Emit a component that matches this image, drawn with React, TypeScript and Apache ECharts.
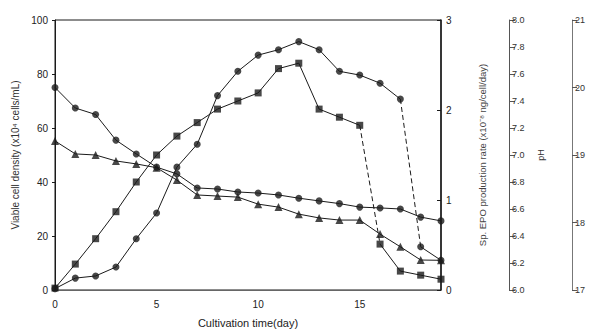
import React, { useEffect, useRef } from "react";
import * as echarts from "echarts";

const days = [0, 1, 2, 3, 4, 5, 6, 7, 8, 9, 10, 11, 12, 13, 14, 15, 16, 17, 18, 19];
const cellA = [0.7, 9.6, 19, 29, 40, 50, 57, 62, 67, 70, 73, 82, 84, 67, 64, 61, 17, 7, 5.5, 4];
const cellB = [0.5, 4.4, 5.2, 8.5, 19, 28.5, 45.5, 54, 72, 81, 87, 89, 92, 89, 81, 79.6, 76.6, 70.7, 16, 11];
const descCircles = [75, 67.4, 65, 55.5, 50.4, 45.5, 43, 37.8, 37.4, 36.3, 35.9, 35.2, 34, 33, 32, 30.7, 30.4, 30, 27, 25.6];
const triangles = [55.2, 50.4, 50, 47.8, 46.7, 45.3, 40.7, 35.2, 34.8, 34.4, 31.8, 30.7, 28.1, 26.7, 25.9, 25.9, 20.7, 16, 11.1, 11];

const FONT = "'Liberation Sans', Arial, sans-serif";
const INK = "#1a1a1a";

function seg(vals: number[], from: number, to: number) {
  return vals.map((v, i) => [days[i], v]).filter((_, i) => i >= from && i <= to);
}

export default function App() {
  const ref = useRef<HTMLDivElement>(null);
  useEffect(() => {
    document.body.style.margin = "0";
    if (!ref.current) return;
    const chart = echarts.init(ref.current, null, { renderer: "svg" });
    const lineSeries = (data: number[][], dashed = false) => ({
      type: "line",
      data,
      yAxisIndex: 0,
      symbol: "none",
      lineStyle: { color: INK, width: 1, type: dashed ? [5, 3] : "solid" },
      z: 2,
    });
    const markers = (vals: number[], symbol: string, size: number) => ({
      type: "scatter",
      data: vals.map((v, i) => [days[i], v]),
      yAxisIndex: 0,
      symbol,
      symbolSize: size,
      itemStyle: { color: INK },
      z: 3,
    });
    const axisText = { color: "#222222", fontSize: 10, fontFamily: FONT };
    chart.setOption({
      animation: false,
      grid: { left: 55, right: 159, top: 20, bottom: 44, show: true, borderColor: INK, borderWidth: 1 },
      xAxis: {
        type: "value",
        min: 0,
        max: 19,
        interval: 5,
        axisLine: { lineStyle: { color: "#666666" } },
        axisTick: { show: false },
        splitLine: { show: false },
        axisLabel: { ...axisText, margin: 9, showMaxLabel: false },
        name: "Cultivation time(day)",
        nameLocation: "middle",
        nameGap: 27,
        nameTextStyle: { color: "#222222", fontSize: 11, fontFamily: FONT },
      },
      yAxis: [
        {
          type: "value",
          min: 0,
          max: 100,
          interval: 20,
          position: "left",
          axisLine: { show: true, lineStyle: { color: INK } },
          axisTick: { show: true, length: 3, lineStyle: { color: INK } },
          splitLine: { show: false },
          axisLabel: { ...axisText, margin: 7 },
          name: "Viable cell density (x10\u2074 cells/mL)",
          nameLocation: "middle",
          nameGap: 28,
          nameRotate: 90,
          nameTextStyle: { color: "#333333", fontSize: 10, fontFamily: FONT },
        },
        {
          type: "value",
          min: 0,
          max: 3,
          interval: 1,
          position: "right",
          offset: 0,
          axisLine: { show: true, lineStyle: { color: INK, width: 1.5 } },
          axisTick: { show: true, inside: true, length: 4, lineStyle: { color: INK } },
          splitLine: { show: false },
          axisLabel: { ...axisText, margin: 5 },
          name: "Sp. EPO production rate (x10\u207B\u2078 ng/cell/day)",
          nameLocation: "middle",
          nameGap: 36,
          nameRotate: 90,
          nameTextStyle: { color: "#444444", fontSize: 9.5, fontFamily: FONT },
        },
        {
          type: "value",
          min: 6,
          max: 8,
          interval: 0.2,
          position: "right",
          offset: 68,
          axisLine: { show: true, lineStyle: { color: "#555555" } },
          axisTick: { show: true, length: 6, lineStyle: { color: "#555555" } },
          splitLine: { show: false },
          axisLabel: { ...axisText, fontSize: 9, color: "#333333", margin: 3, formatter: (v: number) => v.toFixed(1) },
          name: "pH",
          nameLocation: "middle",
          nameGap: 27,
          nameRotate: 90,
          nameTextStyle: { color: "#333333", fontSize: 9, fontFamily: FONT },
        },
        {
          type: "value",
          min: 17,
          max: 21,
          interval: 1,
          position: "right",
          offset: 131,
          axisLine: { show: true, lineStyle: { color: "#777777" } },
          axisTick: { show: true, length: 5, lineStyle: { color: "#555555" } },
          splitLine: { show: false },
          axisLabel: { ...axisText, fontSize: 9, color: "#333333", margin: 3 },
        },
      ],
      series: [
        lineSeries(seg(cellA, 0, 15)),
        lineSeries(seg(cellA, 15, 16), true),
        lineSeries(seg(cellA, 16, 19)),
        lineSeries(seg(cellB, 0, 17)),
        lineSeries(seg(cellB, 17, 18), true),
        lineSeries(seg(cellB, 18, 19)),
        lineSeries(seg(descCircles, 0, 19)),
        lineSeries(seg(triangles, 0, 19)),
        markers(cellA, "rect", 7),
        markers(cellB, "circle", 7),
        markers(descCircles, "circle", 7),
        markers(triangles, "triangle", 8),
      ],
    });
    return () => chart.dispose();
  }, []);
  return <div ref={ref} style={{ width: 600, height: 334 }} />;
}
